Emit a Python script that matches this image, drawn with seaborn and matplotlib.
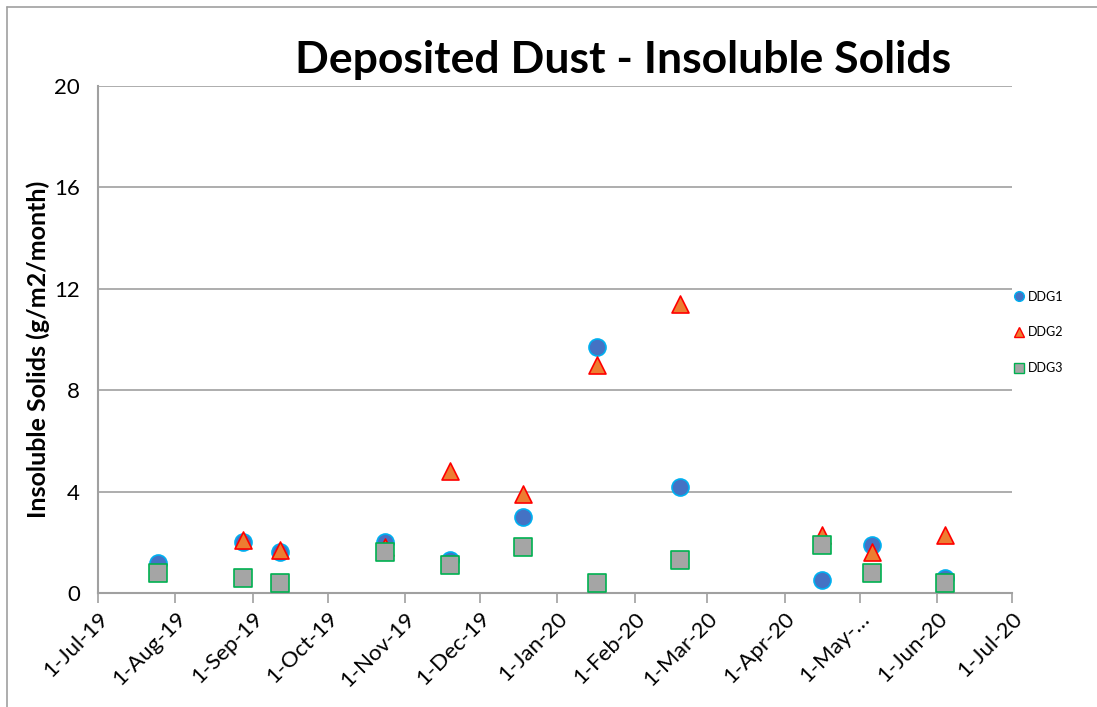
import pandas as pd
import numpy as np
import matplotlib.pyplot as plt
from matplotlib.lines import Line2D
import seaborn as sns

sns.set_theme(style="white")
plt.rcParams['font.family'] = ['Lato', 'DejaVu Sans']
plt.rcParams['text.color'] = 'black'
plt.rcParams['axes.labelcolor'] = 'black'

# Data
dates = ["2019-07-25", "2019-08-28", "2019-09-12", "2019-10-24", "2019-11-19",
         "2019-12-18", "2020-01-17", "2020-02-19", "2020-04-16", "2020-05-06",
         "2020-06-04"]
ddg1 = [1.2, 2.0, 1.6, 2.0, 1.3, 3.0, 9.7, 4.2, 0.5, 1.9, 0.6]
ddg2 = [np.nan, 2.1, 1.7, 1.8, 4.8, 3.9, 9.0, 11.4, 2.3, 1.6, 2.3]
ddg3 = [0.8, 0.6, 0.4, 1.6, 1.1, 1.8, 0.4, 1.3, 1.9, 0.8, 0.4]

df = pd.DataFrame({"date": pd.to_datetime(dates), "DDG1": ddg1, "DDG2": ddg2, "DDG3": ddg3})

styles = {
    "DDG1": dict(marker="o", color="#4472C4", edgecolor="#00B0F0"),
    "DDG2": dict(marker="^", color="#ED7D31", edgecolor="#FF0000"),
    "DDG3": dict(marker="s", color="#A5A5A5", edgecolor="#00B050"),
}

fig = plt.figure(figsize=(10.97, 7.07), dpi=100)
ax = fig.add_axes([0.0893, 0.1612, 0.8332, 0.7172])

for name, st in styles.items():
    sns.scatterplot(data=df, x="date", y=name, marker=st["marker"], color=st["color"],
                    edgecolor=st["edgecolor"], linewidth=1.2, s=150, ax=ax, zorder=3)

ax.set_xlim(pd.Timestamp("2019-07-01"), pd.Timestamp("2020-07-01"))
ax.set_ylim(0, 20)
ax.set_yticks([0, 4, 8, 12, 16, 20])
ticks = pd.date_range("2019-07-01", "2020-07-01", freq="MS")
labels = [f"1-{d.strftime('%b-%y')}" for d in ticks]
labels[10] = "1-May-\u2026"
ax.set_xticks(ticks)
ax.set_xticklabels(labels, rotation=45, ha="right", rotation_mode="anchor", fontsize=16)
ax.tick_params(axis="y", labelsize=16, length=8, color="#A0A0A0", width=1.2, pad=5,
               labelcolor="black")
ax.tick_params(axis="x", length=7, color="#A0A0A0", width=1.2, pad=4, bottom=True,
               labelcolor="black")
ax.yaxis.grid(True, color="#A0A0A0", linewidth=1.2)
ax.set_axisbelow(True)
for sp in ["top", "right"]:
    ax.spines[sp].set_visible(False)
for sp in ["left", "bottom"]:
    ax.spines[sp].set_color("#A0A0A0")
    ax.spines[sp].set_linewidth(1.5)

ax.set_xlabel("")
ax.set_ylabel("Insoluble Solids (g/m2/month)", fontsize=18, fontweight="bold")
ax.yaxis.set_label_coords(-0.052, 0.481)
fig.text(0.568, 0.915, "Deposited Dust - Insoluble Solids", ha="center", va="center",
         fontsize=32, fontweight="bold")

handles = [Line2D([], [], linestyle="none", marker=st["marker"], markerfacecolor=st["color"],
                  markeredgecolor=st["edgecolor"], markersize=7, label=name)
           for name, st in styles.items()]
fig.legend(handles=handles, loc="center left", bbox_to_anchor=(0.912, 0.53), frameon=False,
           fontsize=9, labelspacing=1.9, handletextpad=0.1, handlelength=1.2)

# outer chart border
fig.add_artist(Line2D([0.0064, 0.0064], [0, 0.99], transform=fig.transFigure, color="#A0A0A0", lw=1.2))
fig.add_artist(Line2D([0.0064, 1.0], [0.99, 0.99], transform=fig.transFigure, color="#A0A0A0", lw=1.2))

fig.savefig("out.png", dpi=100)
